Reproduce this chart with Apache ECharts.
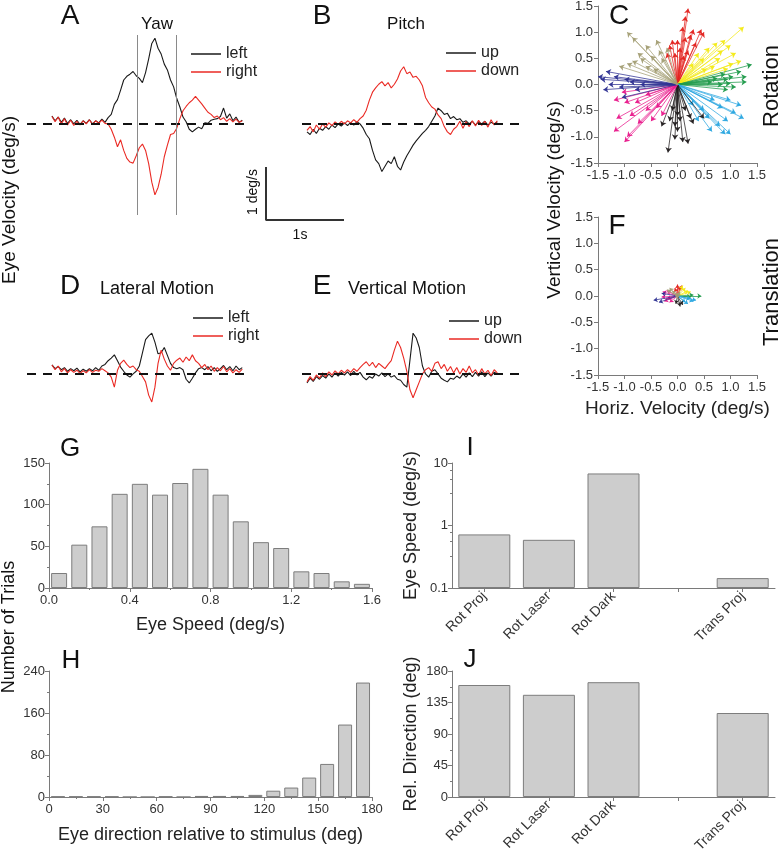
<!DOCTYPE html>
<html>
<head>
<meta charset="utf-8">
<script src="https://cdn.jsdelivr.net/npm/echarts/dist/echarts.min.js"></script>
<style>
html,body{margin:0;padding:0;background:#fff;}
#chart{width:782px;height:853px;}
</style>
</head>
<body>
<div id="chart"></div>
<script>
var FONT = "'Liberation Sans', Arial, sans-serif";

// eye traces, deg/s, one sample every dt seconds
var dt = 0.04;
var startAD = 0.32;   // first sample time, yaw / lateral
var startBE = 0.064;  // first sample time, pitch / vertical

var yawLeft = [0.15,0.06,0.13,0.03,0.11,0.01,0.08,0.00,0.07,-0.01, 0.06,0.01,0.08,0.00,0.06,0.02,0.09,0.03,0.12,0.18,
  0.37,0.46,0.64,0.83,0.90,0.94,0.99,0.91,0.86,0.78, 0.97,1.23,1.52,1.62,1.43,1.32,1.13,1.02,0.83,0.70,
  0.48,0.32,0.13,0.04,-0.10,-0.15,-0.10,-0.06,-0.09,0.02, 0.01,0.07,0.09,0.10,0.14,0.30,0.11,0.19,0.06,0.13, 0.03,0.07];
var yawRight = [0.14,0.04,0.13,0.00,0.10,-0.02,0.07,-0.03,0.05,-0.02, 0.06,0.00,0.08,-0.01,0.06,0.01,0.07,0.01,0.00,-0.10,
  -0.25,-0.43,-0.30,-0.50,-0.65,-0.72,-0.74,-0.60,-0.45,-0.38, -0.50,-0.75,-1.10,-1.34,-1.20,-0.95,-0.62,-0.40,-0.20,-0.18,
  -0.08,0.10,0.25,0.33,0.40,0.45,0.52,0.45,0.38,0.30, 0.22,0.18,0.12,0.15,0.08,0.12,0.05,0.10,0.04,0.09, 0.03,0.06];
var pitchUp = [-0.15,-0.20,-0.10,-0.18,-0.08,-0.12,-0.05,-0.10,-0.02,-0.07, 0.00,-0.04,0.02,-0.03,0.03,-0.02,0.04,0.00,-0.08,-0.20,
  -0.28,-0.50,-0.68,-0.75,-0.90,-0.80,-0.70,-0.75,-0.62,-0.80, -0.87,-0.72,-0.60,-0.50,-0.40,-0.32,-0.25,-0.18,-0.12,-0.05,
  0.05,0.15,0.30,0.25,0.18,0.20,0.10,0.14,0.08,0.10, 0.03,0.06,0.00,0.05,-0.02,0.04,0.00,0.05,-0.02,0.03, 0.00,0.04];
var pitchDown = [-0.12,-0.05,-0.15,-0.02,-0.10,0.00,-0.06,0.02,-0.03,0.04, -0.01,0.05,0.00,0.06,0.02,0.08,0.03,0.10,0.15,0.26,
  0.45,0.60,0.68,0.75,0.80,0.72,0.78,0.68,0.75,0.85, 1.00,1.08,0.95,0.98,0.88,0.90,0.83,0.72,0.50,0.40,
  0.32,0.28,0.17,0.10,-0.05,-0.15,-0.20,-0.10,-0.05,0.05, -0.08,0.04,-0.05,0.06,-0.04,0.07,-0.03,0.05,-0.06,0.08, -0.02,0.06];
var latLeft = [0.17,0.10,0.14,0.08,0.12,0.05,0.10,0.06,0.11,0.04, 0.09,0.05,0.10,0.06,0.12,0.07,0.15,0.18,0.25,0.30,
  0.36,0.25,0.13,0.05,-0.02,-0.06,0.00,0.05,0.15,0.40, 0.65,0.72,0.77,0.60,0.38,0.40,0.50,0.35,0.20,0.12,
  0.10,0.12,0.08,-0.10,-0.17,-0.08,0.02,0.10,0.12,0.08, 0.14,0.06,0.12,0.05,0.10,0.16,0.08,0.14,0.06,0.15, 0.08,0.12];
var latRight = [0.17,0.08,0.15,0.04,0.10,0.02,0.08,0.03,0.07,0.01, 0.06,0.02,0.08,0.03,0.07,0.05,0.10,0.06,0.02,-0.06,
  -0.25,0.07,0.20,0.26,0.18,0.12,0.15,0.08,0.05,-0.05, -0.15,-0.40,-0.53,-0.25,0.20,0.45,0.28,0.15,0.07,0.20,
  0.26,0.30,0.22,0.32,0.25,0.36,0.25,0.20,0.12,0.18, 0.08,0.15,0.05,0.12,0.06,0.14,0.04,0.10,0.02,0.08, 0.03,0.09];
var vertUp = [-0.17,-0.08,-0.14,-0.05,-0.10,-0.03,-0.08,0.00,-0.06,0.02, -0.04,0.03,-0.02,0.04,-0.03,0.05,-0.02,0.03,-0.06,-0.11,
  -0.05,-0.08,0.00,-0.04,0.02,-0.05,0.00,-0.06,-0.03,-0.10, -0.12,-0.20,-0.25,0.26,0.77,0.68,0.50,0.15,0.00,-0.06,
  0.05,0.08,0.00,-0.08,-0.12,-0.15,-0.08,-0.10,-0.04,-0.08, 0.00,-0.06,0.02,-0.05,0.03,-0.04,0.04,-0.05,0.02,-0.04, 0.03,0.00];
var vertDown = [-0.15,-0.05,-0.12,-0.02,-0.08,0.02,-0.05,0.04,-0.02,0.06, 0.00,0.07,0.02,0.08,0.03,0.10,0.05,0.12,0.18,0.23,
  0.15,0.22,0.12,0.20,0.15,0.10,0.18,0.25,0.45,0.62, 0.50,0.30,0.05,-0.30,-0.45,-0.30,-0.15,0.00,0.08,0.12,
  0.05,0.20,0.23,0.10,0.18,0.05,0.14,0.02,0.12,0.00, 0.10,0.03,0.15,0.02,0.08,-0.02,0.10,0.00,0.07,-0.03, 0.08,0.02];

var yawEpochs = [1.41, 1.91];          // stimulus on/off (s)
var scaleBar = [[0, 1], [0, 0], [1, 0]]; // 1 deg/s, 1 s

// arrow end points (deg/s), rotation
var rotRed = [[0.2,1.45],[0.15,1.3],[0.1,1.1],[0.0,0.85],[-0.1,0.85],[-0.15,0.75],[0.05,0.7],[0.25,0.95],[0.3,1.05],[0.45,1.05],[0.5,1.0],[-0.05,0.6],[0.12,0.55],[0.2,0.65],[-0.2,0.6],[0.35,0.8],[0.15,0.9]];
var rotYellow = [[1.25,1.1],[0.9,0.85],[0.75,0.8],[1.0,0.75],[0.6,0.7],[1.1,0.6],[0.5,0.5],[0.8,0.5],[1.05,0.4],[0.4,0.6],[0.7,0.35],[0.95,0.3],[0.55,0.3],[0.3,0.4],[0.85,0.65],[1.2,0.45]];
var rotGreen = [[1.4,0.38],[1.3,0.05],[1.05,0.15],[0.95,0.1],[1.1,-0.05],[0.85,0.0],[0.9,0.2],[1.2,0.25],[0.75,0.12],[1.0,0.02],[0.65,0.05],[1.3,0.15],[0.95,-0.1]];
var rotCyan = [[1.25,-0.65],[1.0,-0.95],[0.9,-0.95],[1.1,-0.55],[0.8,-0.8],[0.6,-0.65],[1.0,-0.3],[0.7,-0.3],[0.5,-0.5],[0.85,-0.45],[1.2,-0.4],[0.4,-0.7],[0.3,-0.4],[0.95,-0.7],[0.65,-0.9]];
var rotBlack = [[-0.18,-1.3],[0.1,-1.1],[0.2,-1.13],[0.0,-0.9],[-0.05,-0.8],[0.05,-0.7],[0.25,-0.65],[-0.15,-0.7],[-0.3,-0.8],[0.3,-0.75],[0.15,-0.5],[-0.1,-0.5],[0.5,-0.65],[-0.05,-1.05],[0.0,-0.6]];
var rotMagenta = [[-1.0,-1.1],[-0.95,-1.0],[-1.2,-0.9],[-1.15,-0.65],[-0.75,-0.75],[-0.9,-0.6],[-1.0,-0.35],[-0.6,-0.5],[-0.8,-0.35],[-0.5,-0.7],[-1.2,-0.3],[-0.4,-0.45],[-0.6,-0.2],[-1.05,-0.15],[-0.3,-0.6]];
var rotBlue = [[-1.35,0.25],[-1.45,0.1],[-1.4,-0.1],[-1.3,0.0],[-1.1,-0.05],[-1.0,0.1],[-0.9,0.05],[-1.2,0.15],[-0.8,-0.1],[-0.7,0.0],[-1.05,-0.25],[-1.5,0.15]];
var rotKhaki = [[-0.95,1.0],[-0.85,0.9],[-0.4,0.85],[-0.35,0.65],[-0.6,0.75],[-0.5,0.55],[-0.85,0.45],[-0.7,0.5],[-0.3,0.5],[-0.95,0.4],[-0.6,0.35],[-0.45,0.3],[-0.75,0.6],[-1.1,0.35],[-0.2,0.7]];

// arrow end points (deg/s), translation
var trnRed = [[0.0,0.22],[0.05,0.18],[-0.05,0.15],[0.08,0.2]];
var trnYellow = [[0.15,0.15],[0.2,0.1],[0.1,0.2],[0.25,0.08]];
var trnGreen = [[0.45,0.0],[0.3,0.02],[0.25,-0.02]];
var trnCyan = [[0.3,-0.1],[0.2,-0.15],[0.25,-0.05],[0.15,-0.12],[0.35,-0.08]];
var trnBlack = [[0.05,-0.2],[-0.03,-0.15],[0.1,-0.17]];
var trnMagenta = [[-0.25,-0.1],[-0.2,-0.05],[-0.3,-0.02],[-0.15,-0.12],[-0.2,0.1],[-0.28,0.08]];
var trnBlue = [[-0.45,-0.08],[-0.35,-0.12],[-0.3,0.05]];
var trnKhaki = [[-0.15,0.15],[-0.1,0.1],[-0.2,0.12],[-0.05,0.05],[0.05,0.08],[0.0,-0.05]];

var arrowColors = ['#e3231f','#f3ea16','#1f9a4a','#2aa6e0','#231f20','#e8198b','#2e3192','#a39e74'];

// histograms
var speedBins = [0.05,0.15,0.25,0.35,0.45,0.55,0.65,0.75,0.85,0.95,1.05,1.15,1.25,1.35,1.45,1.55];
var speedCounts = [18,52,74,113,125,112,126,143,112,80,55,48,20,18,8,5];
var dirBins = [5,15,25,35,45,55,65,75,85,95,105,115,125,135,145,155,165,175];
var dirCounts = [1,1,1,1,0,0,1,0,2,2,2,4,12,18,37,63,138,218];

// conditions
var conditions = ['Rot Proj','Rot Laser','Rot Dark','','Trans Proj'];
var condSpeed = [0.72, 0.59, 6.8, '-', 0.144];
var condDirection = [160, 146, 164, '-', 120];

function toPairs(vals, t0) {
  return vals.map(function (v, i) { return [t0 + i * dt, v]; });
}

var axisGrey = '#7a7a7a';
function shownAxis(o) {
  var base = {
    axisLine: {show: true, onZero: false, lineStyle: {color: axisGrey, width: 1}},
    axisTick: {show: true, inside: false, length: 4, lineStyle: {color: axisGrey}},
    splitLine: {show: false},
    nameTextStyle: {color: '#222', fontSize: 18, fontFamily: FONT}
  };
  for (var k in o) base[k] = o[k];
  return base;
}
function lab(size, margin, extra) {
  var l = {color: '#333', fontSize: size, fontFamily: FONT, margin: margin};
  for (var k in extra) l[k] = extra[k];
  return l;
}

var yLo = -1.72, yHi = 1.68;
var grids = [
  {left: 27, top: 35, width: 218.4, height: 180},   // A
  {left: 302, top: 35, width: 218.4, height: 180},  // B
  {left: 27, top: 285, width: 218.4, height: 180},  // D
  {left: 302, top: 285, width: 218.4, height: 180}, // E
  {left: 598, top: 6, width: 159, height: 157},     // C
  {left: 598, top: 217, width: 159, height: 158},   // F
  {left: 49, top: 463, width: 323, height: 125},    // G
  {left: 49, top: 671, width: 323, height: 126},    // H
  {left: 452, top: 463, width: 323, height: 125},   // I
  {left: 452, top: 671, width: 323, height: 126},   // J
  {left: 266, top: 167, width: 78, height: 53}      // scale bar
].map(function (g) { g.outerBoundsMode = 'none'; g.containLabel = false; return g; });

var xAxes = [], yAxes = [];
for (var i = 0; i < 4; i++) {
  xAxes.push({type: 'value', gridIndex: i, show: false, min: 0, max: 2.8});
  yAxes.push({type: 'value', gridIndex: i, show: false, min: yLo, max: yHi});
}
var fmt1 = function (v) { return v.toFixed(1); };
[4, 5].forEach(function (g) {
  xAxes.push(shownAxis({type: 'value', gridIndex: g, min: -1.5, max: 1.5, interval: 0.5,
    name: g === 5 ? 'Horiz. Velocity (deg/s)' : '', nameLocation: 'middle', nameGap: 24,
    nameTextStyle: {color: '#222', fontSize: 19, fontFamily: FONT},
    axisLabel: lab(13, 6, {formatter: fmt1})}));
  yAxes.push(shownAxis({type: 'value', gridIndex: g, min: -1.5, max: 1.5, interval: 0.5,
    axisLabel: lab(13, 5, {formatter: fmt1})}));
});
var minor = {show: true, splitNumber: 2, length: 2, lineStyle: {color: axisGrey}};
// G
xAxes.push(shownAxis({type: 'value', gridIndex: 6, min: 0, max: 1.6, interval: 0.4,
  name: 'Eye Speed (deg/s)', nameLocation: 'middle', nameGap: 28, minorTick: minor,
  axisLabel: lab(13, 6, {formatter: fmt1})}));
yAxes.push(shownAxis({type: 'value', gridIndex: 6, min: 0, max: 150, interval: 50, minorTick: minor,
  axisLabel: lab(13, 4)}));
// H
xAxes.push(shownAxis({type: 'value', gridIndex: 7, min: 0, max: 180, interval: 30,
  name: 'Eye direction relative to stimulus (deg)', nameLocation: 'middle', nameGap: 29, minorTick: minor,
  axisLabel: lab(13, 6)}));
yAxes.push(shownAxis({type: 'value', gridIndex: 7, min: 0, max: 240, interval: 80, minorTick: minor,
  axisLabel: lab(13, 4)}));
// I, J
[8, 9].forEach(function (g) {
  xAxes.push(shownAxis({type: 'category', gridIndex: g, data: conditions,
    axisTick: {show: true, alignWithLabel: true, length: 4, lineStyle: {color: axisGrey}},
    axisLabel: lab(14, 6, {rotate: 45, interval: 0})}));
});
yAxes.push(shownAxis({type: 'log', gridIndex: 8, logBase: 10, min: 0.1, max: 10, startValue: 0.1,
  name: 'Eye Speed (deg/s)', nameLocation: 'middle', nameGap: 32,
  minorTick: {show: true, splitNumber: 4, length: 2, lineStyle: {color: axisGrey}},
  axisLabel: lab(13, 4)}));
yAxes.push(shownAxis({type: 'value', gridIndex: 9, min: 0, max: 180, interval: 45,
  name: 'Rel. Direction (deg)', nameLocation: 'middle', nameGap: 32, minorTick: minor,
  axisLabel: lab(13, 4)}));
// scale bar axes
xAxes.push({type: 'value', gridIndex: 10, show: false, min: 0, max: 1});
yAxes.push({type: 'value', gridIndex: 10, show: false, min: 0, max: 1});

var zeroLine = {yAxis: 0, lineStyle: {color: '#111', width: 2, type: [9, 7]}};
function trace(name, vals, t0, ax, color, marks) {
  var s = {
    name: name, type: 'line', xAxisIndex: ax, yAxisIndex: ax,
    data: toPairs(vals, t0), showSymbol: false, symbol: 'none',
    lineStyle: {color: color, width: 1.1}, itemStyle: {color: color}, z: 3
  };
  if (marks) {
    s.markLine = {silent: true, symbol: ['none', 'none'], label: {show: false}, animation: false, data: marks};
  }
  return s;
}

var series = [
  trace('left', yawLeft, startAD, 0, '#1a1a1a', [zeroLine].concat(yawEpochs.map(function (t) {
    return {xAxis: t, lineStyle: {color: '#8a8a8a', width: 1, type: 'solid'}};
  }))),
  trace('right', yawRight, startAD, 0, '#ea2a24'),
  trace('up', pitchUp, startBE, 1, '#1a1a1a', [zeroLine]),
  trace('down', pitchDown, startBE, 1, '#ea2a24'),
  trace('left', latLeft, startAD, 2, '#1a1a1a', [zeroLine]),
  trace('right', latRight, startAD, 2, '#ea2a24'),
  trace('up', vertUp, startBE, 3, '#1a1a1a', [zeroLine]),
  trace('down', vertDown, startBE, 3, '#ea2a24'),
  {type: 'line', xAxisIndex: 10, yAxisIndex: 10, data: scaleBar, showSymbol: false, symbol: 'none',
    lineStyle: {color: '#333', width: 2}}
];

function arrows(points, color, ax) {
  return {
    type: 'lines', coordinateSystem: 'cartesian2d', xAxisIndex: ax, yAxisIndex: ax,
    symbol: ['none', 'arrow'], symbolSize: ax === 4 ? 5 : 4,
    lineStyle: {color: color, width: 0.8, opacity: 0.95},
    data: points.map(function (p) { return {coords: [[0, 0], p]}; })
  };
}
[rotRed, rotYellow, rotGreen, rotCyan, rotBlack, rotMagenta, rotBlue, rotKhaki].forEach(function (pts, k) {
  series.push(arrows(pts, arrowColors[k], 4));
});
[trnRed, trnYellow, trnGreen, trnCyan, trnBlack, trnMagenta, trnBlue, trnKhaki].forEach(function (pts, k) {
  series.push(arrows(pts, arrowColors[k], 5));
});

var barStyle = {color: '#cdcdcd', borderColor: '#7d7d7d', borderWidth: 1};
series.push({type: 'bar', xAxisIndex: 6, yAxisIndex: 6, barWidth: 16, itemStyle: barStyle,
  data: speedBins.map(function (b, i) { return [b, speedCounts[i]]; })});
series.push({type: 'bar', xAxisIndex: 7, yAxisIndex: 7, barWidth: 14, itemStyle: barStyle,
  data: dirBins.map(function (b, i) { return [b, dirCounts[i]]; })});
series.push({type: 'bar', xAxisIndex: 8, yAxisIndex: 8, barWidth: 52, itemStyle: barStyle, data: condSpeed});
series.push({type: 'bar', xAxisIndex: 9, yAxisIndex: 9, barWidth: 52, itemStyle: barStyle, data: condDirection});

function legendAt(names, left, top) {
  return {data: names, left: left, top: top, orient: 'vertical', icon: 'rect', itemWidth: 30, itemHeight: 1.5,
    itemGap: 2, padding: 0, selectedMode: false,
    textStyle: {color: '#222', fontSize: 16, fontFamily: FONT}};
}

function txt(s, x, y, size, rot) {
  return {type: 'text', x: x, y: y, rotation: rot ? Math.PI / 2 : 0, silent: true,
    style: {text: s, fontSize: size, fontFamily: FONT, fill: '#111', align: 'center', verticalAlign: 'middle'}};
}

var option = {
  animation: false,
  backgroundColor: '#fff',
  grid: grids,
  xAxis: xAxes,
  yAxis: yAxes,
  legend: [
    legendAt(['left', 'right'], 191, 46),
    legendAt(['up', 'down'], 446, 45),
    legendAt(['left', 'right'], 193, 310),
    legendAt(['up', 'down'], 449, 313)
  ],
  graphic: [
    txt('A', 70, 16, 28), txt('Yaw', 157, 24, 17),
    txt('B', 322, 16, 28), txt('Pitch', 406, 24, 17),
    txt('C', 619, 16, 28), txt('F', 617, 226, 28),
    txt('D', 70, 286, 28), txt('Lateral Motion', 157, 289, 18),
    txt('E', 322, 286, 28), txt('Vertical Motion', 407, 289, 18),
    txt('G', 70, 449, 26), txt('H', 71, 661, 26),
    txt('I', 470, 448, 26), txt('J', 470, 660, 26),
    txt('Eye Velocity (deg/s)', 10, 200, 19, true),
    txt('1 deg/s', 253, 192, 14, true), txt('1s', 300, 235, 14),
    txt('Vertical Velocity (deg/s)', 555, 200, 19, true),
    txt('Rotation', 772, 86, 22, true), txt('Translation', 772, 292, 22, true),
    txt('Number of Trials', 9, 627, 18, true)
  ],
  series: series
};

var chart = echarts.init(document.getElementById('chart'), null, {renderer: 'canvas'});
chart.setOption(option);
</script>
</body>
</html>
